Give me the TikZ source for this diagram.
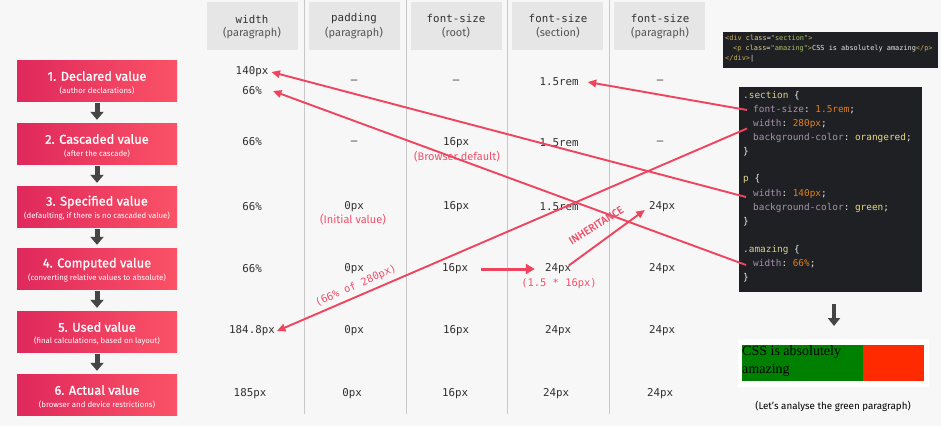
\documentclass[tikz,border=0pt]{standalone}
\usepackage{fontspec}
\setmainfont{Fira Sans}
\setmonofont{DejaVu Sans Mono}
\newfontfamily\serifbox{Liberation Serif}
\newfontfamily\medfont{Fira Sans}[FakeBold=0.9]
\usetikzlibrary{arrows.meta}
\definecolor{bg}{HTML}{F7F7F7}
\definecolor{hdr}{HTML}{E6E6E6}
\definecolor{sep}{HTML}{C8C8C8}
\definecolor{boxL}{HTML}{DF285C}
\definecolor{boxR}{HTML}{FB5266}
\definecolor{darkarr}{HTML}{454545}
\definecolor{redl}{HTML}{F0445E}
\definecolor{redt}{HTML}{F2506A}
\definecolor{valc}{HTML}{303030}
\definecolor{subc}{HTML}{555555}
\definecolor{codebg}{HTML}{1F2023}
\definecolor{csel}{HTML}{DCD08C}
\definecolor{cprop}{HTML}{A892AE}
\definecolor{cnum}{HTML}{E0801E}
\definecolor{cword}{HTML}{E8DC80}
\definecolor{cwhite}{HTML}{E8E8E8}
\definecolor{ctag}{HTML}{C8AE5E}
\definecolor{cstr}{HTML}{A8C266}
\definecolor{pgreen}{HTML}{008000}
\definecolor{pred}{HTML}{FF2A00}
\begin{document}
\begin{tikzpicture}[x=1pt,y=-1pt,
  stepbox/.style={minimum width=160pt,minimum height=41pt,inner sep=0pt,left color=boxL,right color=boxR,draw=none},
  steptitle/.style={text=white,font=\medfont\fontsize{12.8}{14}\selectfont,inner sep=0pt},
  stepsub/.style={text=white,font=\fontsize{7.8}{9}\selectfont,inner sep=0pt},
  darrow/.style={draw=darkarr,line width=5pt,-{Triangle[length=8pt,width=13pt]},shorten <=2pt,shorten >=3pt},
  hdrbox/.style={fill=hdr,minimum width=91pt,minimum height=48pt,inner sep=0pt},
  hmono/.style={font=\ttfamily\fontsize{10.8}{12}\selectfont,text=valc,inner sep=0pt},
  hsub/.style={font=\fontsize{11}{12}\selectfont,text=subc,inner sep=0pt},
  val/.style={font=\ttfamily\fontsize{10.8}{12}\selectfont,text=valc,inner sep=2pt},
  note/.style={font=\fontsize{11}{12}\selectfont,text=redt,inner sep=0pt},
  rarrow/.style={draw=redl,line width=1.9pt,-{Triangle[length=8.5pt,width=7.5pt]}},
  code/.style={font=\ttfamily\fontsize{9.4}{11}\selectfont,anchor=west,inner sep=0pt,text=cwhite},
  hcode/.style={font=\ttfamily\fontsize{6.9}{8}\selectfont,anchor=west,inner sep=0pt,text=cwhite}
]
\useasboundingbox (0,0) rectangle (941,426);
\fill[bg] (0,0) rectangle (941,426);

% column separators
\foreach \x/\n in {304/s1,406/s2,507/s3,609/s4}{
  \draw[sep,line width=0.8pt] (\x,0) -- (\x,414);
}
% headers
\node[hdrbox] (h1) at (252.5,26) {};
\node[hdrbox] (h2) at (354.5,26) {};
\node[hdrbox] (h3) at (456.5,26) {};
\node[hdrbox] (h4) at (557.5,26) {};
\node[hdrbox] (h5) at (659.5,26) {};
\node[hmono] (h1a) at (252,19) {width};
\node[hsub] (h1b) at (252,33) {(paragraph)};
\node[hmono] (h2a) at (354,19) {padding};
\node[hsub] (h2b) at (354,33) {(paragraph)};
\node[hmono] (h3a) at (456,18) {font-size};
\node[hsub] (h3b) at (456,33) {(root)};
\node[hmono] (h4a) at (558,18) {font-size};
\node[hsub] (h4b) at (558,33) {(section)};
\node[hmono] (h5a) at (660,18) {font-size};
\node[hsub] (h5b) at (660,33) {(paragraph)};

% step boxes
\foreach \i/\y/\t/\s in {1/60/{1. Declared value}/{(author declarations)},
  2/123/{2. Cascaded value}/{(after the cascade)},
  3/186/{3. Specified value}/{(defaulting, if there is no cascaded value)},
  4/248/{4. Computed value}/{(converting relative values to absolute)},
  5/311/{5. Used value}/{(final calculations, based on layout)},
  6/374/{6. Actual value}/{(browser and device restrictions)}}{
  \node[stepbox] (b\i) at (97,\y+20.5) {};
  \node[steptitle] (bt\i) at (97,\y+16) {\t};
  \node[stepsub] (bs\i) at (97,\y+30.5) {\s};
}
\draw[darrow] (b1.south) -- (b2.north);
\draw[darrow] (b2.south) -- (b3.north);
\draw[darrow] (b3.south) -- (b4.north);
\draw[darrow] (b4.south) -- (b5.north);
\draw[darrow] (b5.south) -- (b6.north);

% row 1
\node[val] (v11) at (252,72) {140px};
\node[val] (v12) at (252,91) {66\%};
\node[val] (v2r1) at (354,82) {–};
\node[val] (v3r1) at (456,82) {–};
\node[val] (v4r1) at (559,82) {1.5rem};
\node[val] (v5r1) at (660,82) {–};
% row 2
\node[val] (v1r2) at (252,142) {66\%};
\node[val] (v2r2) at (354,143) {–};
\node[val] (v3r2) at (456,143) {16px};
\node[note] (n32) at (457,157) {(Browser default)};
\node[val] (v4r2) at (559,143) {1.5rem};
\node[val] (v5r2) at (660,143) {–};
% row 3
\node[val] (v1r3) at (252,207) {66\%};
\node[val] (v2r3) at (354,207) {0px};
\node[note] (n23) at (353,220) {(Initial value)};
\node[val] (v3r3) at (456,207) {16px};
\node[val] (v4r3) at (559,207) {1.5rem};
\node[val] (v5r3) at (662,207) {24px};
% row 4
\node[val] (v1r4) at (252,269) {66\%};
\node[val] (v2r4) at (354,269) {0px};
\node[val] (v3r4) at (455,269) {16px};
\node[val] (v4r4) at (558,269) {24px};
\node[font=\ttfamily\fontsize{10.4}{12}\selectfont,text=redt,inner sep=0pt] (n44) at (559,284) {(1.5 * 16px)};
\node[val] (v5r4) at (662,269) {24px};
% row 5
\node[val] (v1r5) at (252,331) {184.8px};
\node[val] (v2r5) at (354,331) {0px};
\node[val] (v3r5) at (456,331) {16px};
\node[val] (v4r5) at (558,331) {24px};
\node[val] (v5r5) at (662,331) {24px};
% row 6
\node[val] (v1r6) at (250,394) {185px};
\node[val] (v2r6) at (352,394) {0px};
\node[val] (v3r6) at (455,394) {16px};
\node[val] (v4r6) at (556,394) {24px};
\node[val] (v5r6) at (660,394) {24px};

% HTML code box
\fill[codebg] (723,32) rectangle (938,68);
\node[hcode] (hl1) at (725,38) {\textcolor{ctag}{<div} \textcolor{csel}{class}\textcolor{cwhite}{=}\textcolor{cstr}{"section"}\textcolor{ctag}{>}};
\node[hcode] (hl2) at (733,48.5) {\textcolor{ctag}{<p} \textcolor{csel}{class}\textcolor{cwhite}{=}\textcolor{cstr}{"amazing"}\textcolor{ctag}{>}CSS is absolutely amazing\textcolor{ctag}{</p>}};
\node[hcode] (hl3) at (725,59) {\textcolor{ctag}{</div>}\textcolor{cwhite}{|}};

% CSS code box
\fill[codebg] (739,87) rectangle (922,292);
\node[code] (c1) at (743,96) {\textcolor{csel}{.section} \{};
\node[code] (c2) at (753,110) {\textcolor{cprop}{font-size}: \textcolor{cnum}{1.5rem};};
\node[code] (c3) at (753,123.5) {\textcolor{cprop}{width}: \textcolor{cnum}{280px};};
\node[code] (c4) at (753,138) {\textcolor{cprop}{background-color}: \textcolor{cword}{orangered};};
\node[code] (c5) at (743,152) {\}};
\node[code] (c6) at (743,179) {\textcolor{csel}{p} \{};
\node[code] (c7) at (753,194) {\textcolor{cprop}{width}: \textcolor{cnum}{140px};};
\node[code] (c8) at (753,208) {\textcolor{cprop}{background-color}: \textcolor{cword}{green};};
\node[code] (c9) at (743,222) {\}};
\node[code] (c10) at (743,250) {\textcolor{csel}{.amazing} \{};
\node[code] (c11) at (753,264) {\textcolor{cprop}{width}: \textcolor{cnum}{66\%};};
\node[code] (c12) at (743,278) {\}};

% arrow to rendered output
\coordinate (oa) at (834,304);
\coordinate (ob) at (834,326);
\draw[draw=darkarr,line width=4pt,-{Triangle[length=8pt,width=12pt]}] (oa) -- (ob);

% rendered paragraph
\fill[white] (738,339) rectangle (929,387);
\fill[pgreen] (742,345) rectangle (863,381);
\fill[pred] (863,345) rectangle (924,381);
\node[anchor=north west,inner sep=0pt,align=left,font=\serifbox\fontsize{14}{17.5}\selectfont,text=black] (ptext) at (742,346) {CSS is absolutely\\amazing};
\node[font=\fontsize{9.8}{11}\selectfont,text=black,inner sep=0pt] (cap) at (833,406) {(Let’s analyse the green paragraph)};

% red arrows
\draw[rarrow] ([xshift=-6pt]c2.west) -- ([xshift=7pt]v4r1.east);
\draw[rarrow] ([xshift=-6pt,yshift=-5pt]c3.west) -- (v1r5.east);
\draw[rarrow] ([xshift=-7pt,yshift=-3pt]c7.west) -- ([xshift=1pt]v11.east);
\draw[rarrow] ([xshift=-7pt,yshift=-1pt]c11.west) -- ([xshift=9pt]v12.east);
\node[font=\ttfamily\fontsize{10.4}{12}\selectfont,text=redt,inner sep=0pt,rotate=24] (n66) at (356,286) {(66\% of 280px)};

% computed arrow
\draw[draw=redl,line width=3pt,-{Triangle[length=9pt,width=10pt]},shorten <=11pt,shorten >=8pt] (v3r4.east) -- (v4r4.west);

% inheritance
\draw[rarrow,shorten <=2pt] ([xshift=-6pt,yshift=-5pt]v4r4.north east) -- ([xshift=-2pt,yshift=-3pt]v5r3.west);
\node[font=\medfont\fontsize{10.5}{12}\selectfont,text=redt,inner sep=0pt,rotate=32] (inh) at (596,225) {INHERITANCE};
\end{tikzpicture}
\end{document}
